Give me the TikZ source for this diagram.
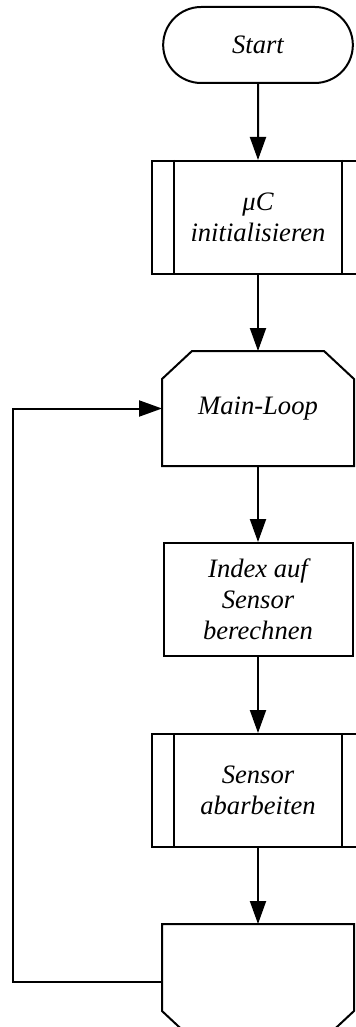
\documentclass[tikz,border=0pt]{standalone}
\usepackage{fontspec}
\setmainfont{Liberation Serif}
\usetikzlibrary{positioning,arrows.meta,shapes.misc}

\begin{document}
\begin{tikzpicture}[
  line width=1pt,
  node distance=38pt,
  every node/.style={font=\fontsize{13.3}{15.5}\selectfont\itshape, align=center},
  startstop/.style={draw, rounded rectangle, minimum width=101.5pt, minimum height=38pt},
  proc/.style={draw, rectangle, minimum width=94.5pt, minimum height=56.5pt},
  subproc/.style={draw, rectangle, minimum width=106pt, minimum height=56.5pt,
    append after command={
      ([xshift=11.5pt]\tikzlastnode.north west) edge[-] ([xshift=11.5pt]\tikzlastnode.south west)
      ([xshift=-11.5pt]\tikzlastnode.north east) edge[-] ([xshift=-11.5pt]\tikzlastnode.south east)}},
  loopnode/.style={rectangle, minimum width=95pt, minimum height=56.5pt},
  arrow/.style={-{Triangle[length=11.5pt,width=8pt]}}
]
\useasboundingbox (0,0) rectangle (177.5pt,-513.5pt);

\node[startstop] (start) at (129pt,-22.5pt) {Start};
\node[subproc, below=of start] (init) {μC\\initialisieren};
\node[loopnode, below=of init] (mainloop) {Main-Loop};
\node[proc, below=of mainloop] (index) {Index auf\\Sensor\\berechnen};
\node[subproc, below=of index] (sensor) {Sensor\\abarbeiten};
\node[loopnode, below=of sensor] (endloop) {};
\coordinate (back) at (6.5pt,0);

% loop limits
\draw (mainloop.south west) -- ([yshift=-14pt]mainloop.north west)
  -- ([xshift=15pt]mainloop.north west) -- ([xshift=-15pt]mainloop.north east)
  -- ([yshift=-14pt]mainloop.north east) -- (mainloop.south east) -- cycle;
\draw (endloop.north west) -- ([yshift=14pt]endloop.south west)
  -- ([xshift=15pt]endloop.south west) -- ([xshift=-15pt]endloop.south east)
  -- ([yshift=14pt]endloop.south east) -- (endloop.north east) -- cycle;

\draw[arrow] (start) -- (init);
\draw[arrow] (init) -- (mainloop);
\draw[arrow] (mainloop) -- (index);
\draw[arrow] (index) -- (sensor);
\draw[arrow] (sensor) -- (endloop);
\draw[arrow] (endloop.west) -- (endloop.west -| back) -- (mainloop.west -| back) -- (mainloop.west);
\end{tikzpicture}
\end{document}
